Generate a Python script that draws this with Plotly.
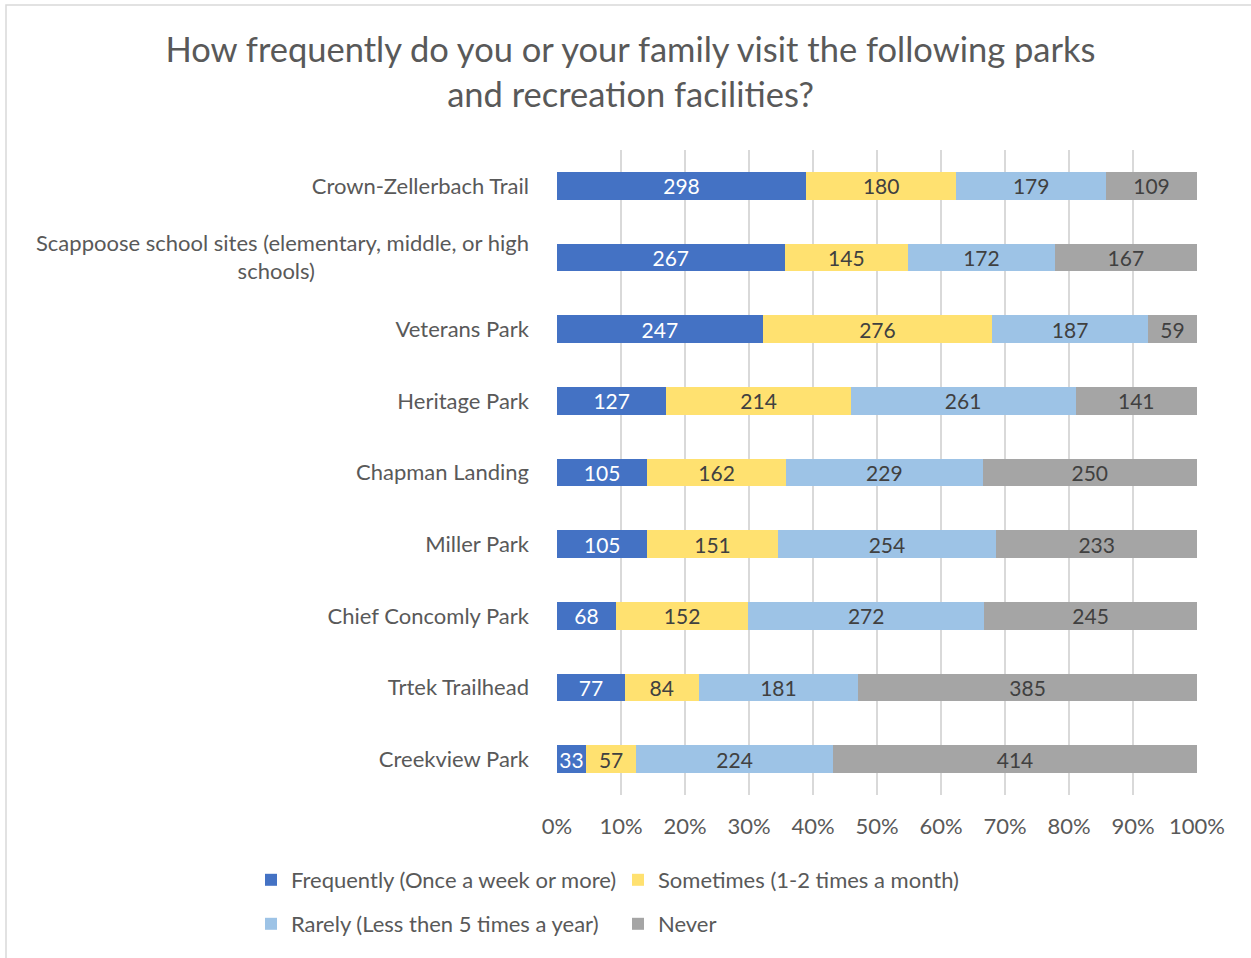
import plotly.graph_objects as go

parks = [
    "Crown-Zellerbach Trail",
    "Scappoose school sites (elementary, middle, or high<br>schools)" + "\u00a0" * 38 + "\u200b",
    "Veterans Park",
    "Heritage Park",
    "Chapman Landing",
    "Miller Park",
    "Chief Concomly Park",
    "Trtek Trailhead",
    "Creekview Park",
]
frequently = [298, 267, 247, 127, 105, 105, 68, 77, 33]
sometimes = [180, 145, 276, 214, 162, 151, 152, 84, 57]
rarely = [179, 172, 187, 261, 229, 254, 272, 181, 224]
never = [109, 167, 59, 141, 250, 233, 245, 385, 414]

series_names = [
    "Frequently (Once a week or more)",
    "Sometimes (1-2 times a month)",
    "Rarely (Less then 5 times a year)",
    "Never",
]
series_values = [frequently, sometimes, rarely, never]
tick_vals = [0, 10, 20, 30, 40, 50, 60, 70, 80, 90, 100]
tick_text = [f"{v}%" for v in tick_vals]

colors = ["#4472C4", "#FFE170", "#9DC3E6", "#A5A5A5"]
text_colors = ["#FFFFFF", "#404040", "#404040", "#404040"]
legends = ["legend", "legend", "legend2", "legend2"]

FONT = "Lato"

fig = go.Figure()
for name, vals, col, tcol, lg in zip(series_names, series_values, colors, text_colors, legends):
    fig.add_trace(go.Bar(
        y=parks, x=vals, name=name, orientation="h",
        marker=dict(color=col, line=dict(width=0)),
        text=vals, textposition="inside", insidetextanchor="middle",
        textangle=0,
        textfont=dict(color=tcol, size=21, family=FONT),
        constraintext="none",
        legend=lg,
        hoverinfo="x+y+name",
    ))

# plot area: x 557..1197, y 150..795
def px_y(py):
    return (795 - py) / 645

legend_x = (251 - 557) / 640

fig.update_layout(
    width=1251, height=958,
    barmode="stack", barnorm="percent", bargap=0.61,
    paper_bgcolor="white", plot_bgcolor="white",
    margin=dict(l=557, r=54, t=150, b=163, autoexpand=False),
    font=dict(family=FONT, color="#595959", size=22),
    title=dict(
        text="How frequently do you or your family visit the following parks<br>and recreation facilities?",
        x=0.504, xanchor="center", y=0.935, yanchor="middle",
        font=dict(size=34.5, color="#595959", family=FONT),
    ),
    xaxis=dict(
        range=[0, 100], tickmode="array", tickvals=tick_vals, ticktext=tick_text,
        showgrid=True, gridcolor="#D9D9D9", gridwidth=1.5,
        zeroline=False, showline=False, ticks="", ticklabelstandoff=16,
        tickfont=dict(size=22, color="#595959"), fixedrange=True,
    ),
    yaxis=dict(
        autorange="reversed", showgrid=False, showline=False, ticks="",
        ticklabelstandoff=27, tickfont=dict(size=22, color="#595959"),
        fixedrange=True,
    ),
    legend=dict(
        orientation="h", xref="paper", yref="paper",
        x=legend_x, xanchor="left", y=px_y(880), yanchor="middle",
        entrywidth=322, entrywidthmode="pixels", traceorder="normal",
        font=dict(size=22, color="#595959"), itemclick=False,
    ),
    legend2=dict(
        orientation="h", xref="paper", yref="paper",
        x=legend_x, xanchor="left", y=px_y(924), yanchor="middle",
        entrywidth=322, entrywidthmode="pixels", traceorder="normal",
        font=dict(size=22, color="#595959"), itemclick=False,
    ),
    showlegend=True,
)

fig.add_shape(type="rect", xref="paper", yref="paper",
              x0=(6 - 557) / 640, x1=(1270 - 557) / 640,
              y0=px_y(975), y1=px_y(5),
              line=dict(color="#D9D9D9", width=1.5), fillcolor="rgba(0,0,0,0)", layer="below")

fig.write_html("out.html")
